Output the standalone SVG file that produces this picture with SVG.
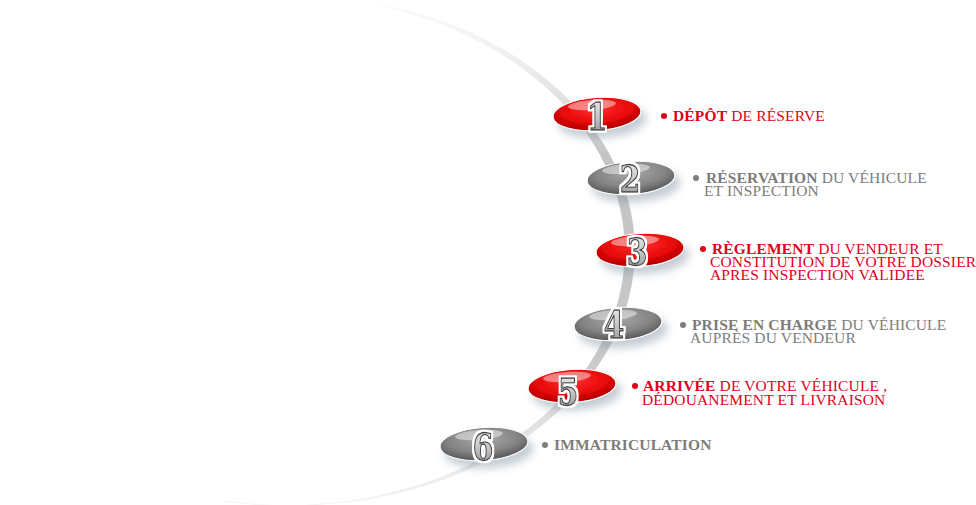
<svg xmlns="http://www.w3.org/2000/svg" width="976" height="505" viewBox="0 0 976 505">
<defs>
<linearGradient id="arcG" x1="0" y1="0" x2="0" y2="1">
<stop offset="0" stop-color="#e6e6e6" stop-opacity="0.2"/>
<stop offset="0.15" stop-color="#d8d8d8" stop-opacity="0.6"/>
<stop offset="0.3" stop-color="#c4c4c4"/>
<stop offset="0.7" stop-color="#c8c8c8"/>
<stop offset="1" stop-color="#e2e2e2" stop-opacity="0.4"/>
</linearGradient>
<radialGradient id="redG" cx="0.5" cy="0.35" r="0.65">
<stop offset="0" stop-color="#ff3030"/>
<stop offset="0.6" stop-color="#e80808"/>
<stop offset="1" stop-color="#a80000"/>
</radialGradient>
<radialGradient id="grayG" cx="0.5" cy="0.35" r="0.65">
<stop offset="0" stop-color="#a8a8a8"/>
<stop offset="0.6" stop-color="#858585"/>
<stop offset="1" stop-color="#555"/>
</radialGradient>
<linearGradient id="digG" x1="0" y1="0" x2="0" y2="1">
<stop offset="0" stop-color="#f4f4f4"/>
<stop offset="0.5" stop-color="#c8c8c8"/>
<stop offset="1" stop-color="#8a8a8a"/>
</linearGradient>
<filter id="sh" x="-30%" y="-50%" width="160%" height="220%">
<feGaussianBlur in="SourceAlpha" stdDeviation="4"/>
<feOffset dx="5" dy="7" result="b"/>
<feFlood flood-color="#7d8ea0" flood-opacity="0.45"/>
<feComposite in2="b" operator="in" result="s"/>
<feMerge><feMergeNode in="s"/><feMergeNode in="SourceGraphic"/></feMerge>
</filter>
<filter id="wo" x="-30%" y="-30%" width="160%" height="160%">
<feMorphology in="SourceAlpha" operator="dilate" radius="2" result="d"/>
<feFlood flood-color="#fff"/>
<feComposite in2="d" operator="in" result="w"/>
<feMerge><feMergeNode in="w"/><feMergeNode in="SourceGraphic"/></feMerge>
</filter>
</defs>
<style>
.red{fill:url(#redG);stroke:#fff;stroke-width:1}
.gray{fill:url(#grayG);stroke:#fff;stroke-width:1}
.gloss{fill:#fff;opacity:0.45}
.dig{font-family:"DejaVu Serif",serif;font-weight:bold;font-size:38px;text-anchor:middle;stroke-linejoin:round;fill:url(#digG);stroke:#444;stroke-width:1.3}
.lbl{font-family:"Liberation Serif","Times New Roman",serif;font-size:15.5px;letter-spacing:0.15px}
.r{fill:#e1001a}
.g{fill:#7c7c7c}
.b{font-weight:bold}
</style>
<rect width="976" height="505" fill="#fff"/>
<g id="connectors">
<path d="M 386,5 A 341 255 0 0 1 230,501 L 220,501 A 341 255 0 0 0 376,5 Z" fill="url(#arcG)"/>
</g>
<g id="step1">
<g filter="url(#sh)"><ellipse cx="597" cy="114" rx="44" ry="16.5" class="red" transform="rotate(-4 597 114)"/></g>
<ellipse cx="592" cy="105" rx="24" ry="5" class="gloss" transform="rotate(-4 592 105)"/>
<g transform="translate(597,130) scale(0.78,1)" filter="url(#wo)"><text class="dig">1</text></g>
<circle cx="664" cy="116" r="3" class="r"/>
<text class="lbl r" x="673" y="121"><tspan class="b">DÉPÔT</tspan> DE RÉSERVE</text>
</g>
<g id="step2">
<g filter="url(#sh)"><ellipse cx="631" cy="178" rx="44" ry="16.5" class="gray" transform="rotate(-4 631 178)"/></g>
<ellipse cx="626" cy="169" rx="24" ry="5" class="gloss" transform="rotate(-4 626 169)"/>
<g transform="translate(630,192) scale(0.78,1)" filter="url(#wo)"><text class="dig">2</text></g>
<circle cx="696" cy="178" r="3" class="g"/>
<text class="lbl g" x="706" y="183"><tspan class="b">RÉSERVATION</tspan> DU VÉHICULE</text>
<text class="lbl g" x="704" y="196">ET INSPECTION</text>
</g>
<g id="step3">
<g filter="url(#sh)"><ellipse cx="640" cy="250" rx="44" ry="16.5" class="red" transform="rotate(-4 640 250)"/></g>
<ellipse cx="635" cy="241" rx="24" ry="5" class="gloss" transform="rotate(-4 635 241)"/>
<g transform="translate(637,265) scale(0.78,1)" filter="url(#wo)"><text class="dig">3</text></g>
<circle cx="703" cy="249" r="3" class="r"/>
<text class="lbl r" x="712" y="254"><tspan class="b">RÈGLEMENT</tspan> DU VENDEUR ET</text>
<text class="lbl r" x="710" y="267">CONSTITUTION DE VOTRE DOSSIER</text>
<text class="lbl r" x="710" y="280">APRES INSPECTION VALIDEE</text>
</g>
<g id="step4">
<g filter="url(#sh)"><ellipse cx="618" cy="324" rx="44" ry="16.5" class="gray" transform="rotate(-4 618 324)"/></g>
<ellipse cx="613" cy="315" rx="24" ry="5" class="gloss" transform="rotate(-4 613 315)"/>
<g transform="translate(614,338) scale(0.78,1)" filter="url(#wo)"><text class="dig">4</text></g>
<circle cx="683" cy="325" r="3" class="g"/>
<text class="lbl g" x="692" y="330"><tspan class="b">PRISE EN CHARGE</tspan> DU VÉHICULE</text>
<text class="lbl g" x="690" y="343">AUPRÈS DU VENDEUR</text>
</g>
<g id="step5">
<g filter="url(#sh)"><ellipse cx="572" cy="386" rx="44" ry="16.5" class="red" transform="rotate(-4 572 386)"/></g>
<ellipse cx="567" cy="377" rx="24" ry="5" class="gloss" transform="rotate(-4 567 377)"/>
<g transform="translate(568,405) scale(0.78,1)" filter="url(#wo)"><text class="dig">5</text></g>
<circle cx="635" cy="386" r="3" class="r"/>
<text class="lbl r" x="643" y="391"><tspan class="b">ARRIVÉE</tspan> DE VOTRE VÉHICULE ,</text>
<text class="lbl r" x="642" y="405">DÉDOUANEMENT ET LIVRAISON</text>
</g>
<g id="step6">
<g filter="url(#sh)"><ellipse cx="484" cy="444" rx="44" ry="16.5" class="gray" transform="rotate(-4 484 444)"/></g>
<ellipse cx="479" cy="435" rx="24" ry="5" class="gloss" transform="rotate(-4 479 435)"/>
<g transform="translate(483,460) scale(0.78,1)" filter="url(#wo)"><text class="dig">6</text></g>
<circle cx="545" cy="445" r="3" class="g"/>
<text class="lbl g" x="554" y="450"><tspan class="b">IMMATRICULATION</tspan></text>
</g>
</svg>
